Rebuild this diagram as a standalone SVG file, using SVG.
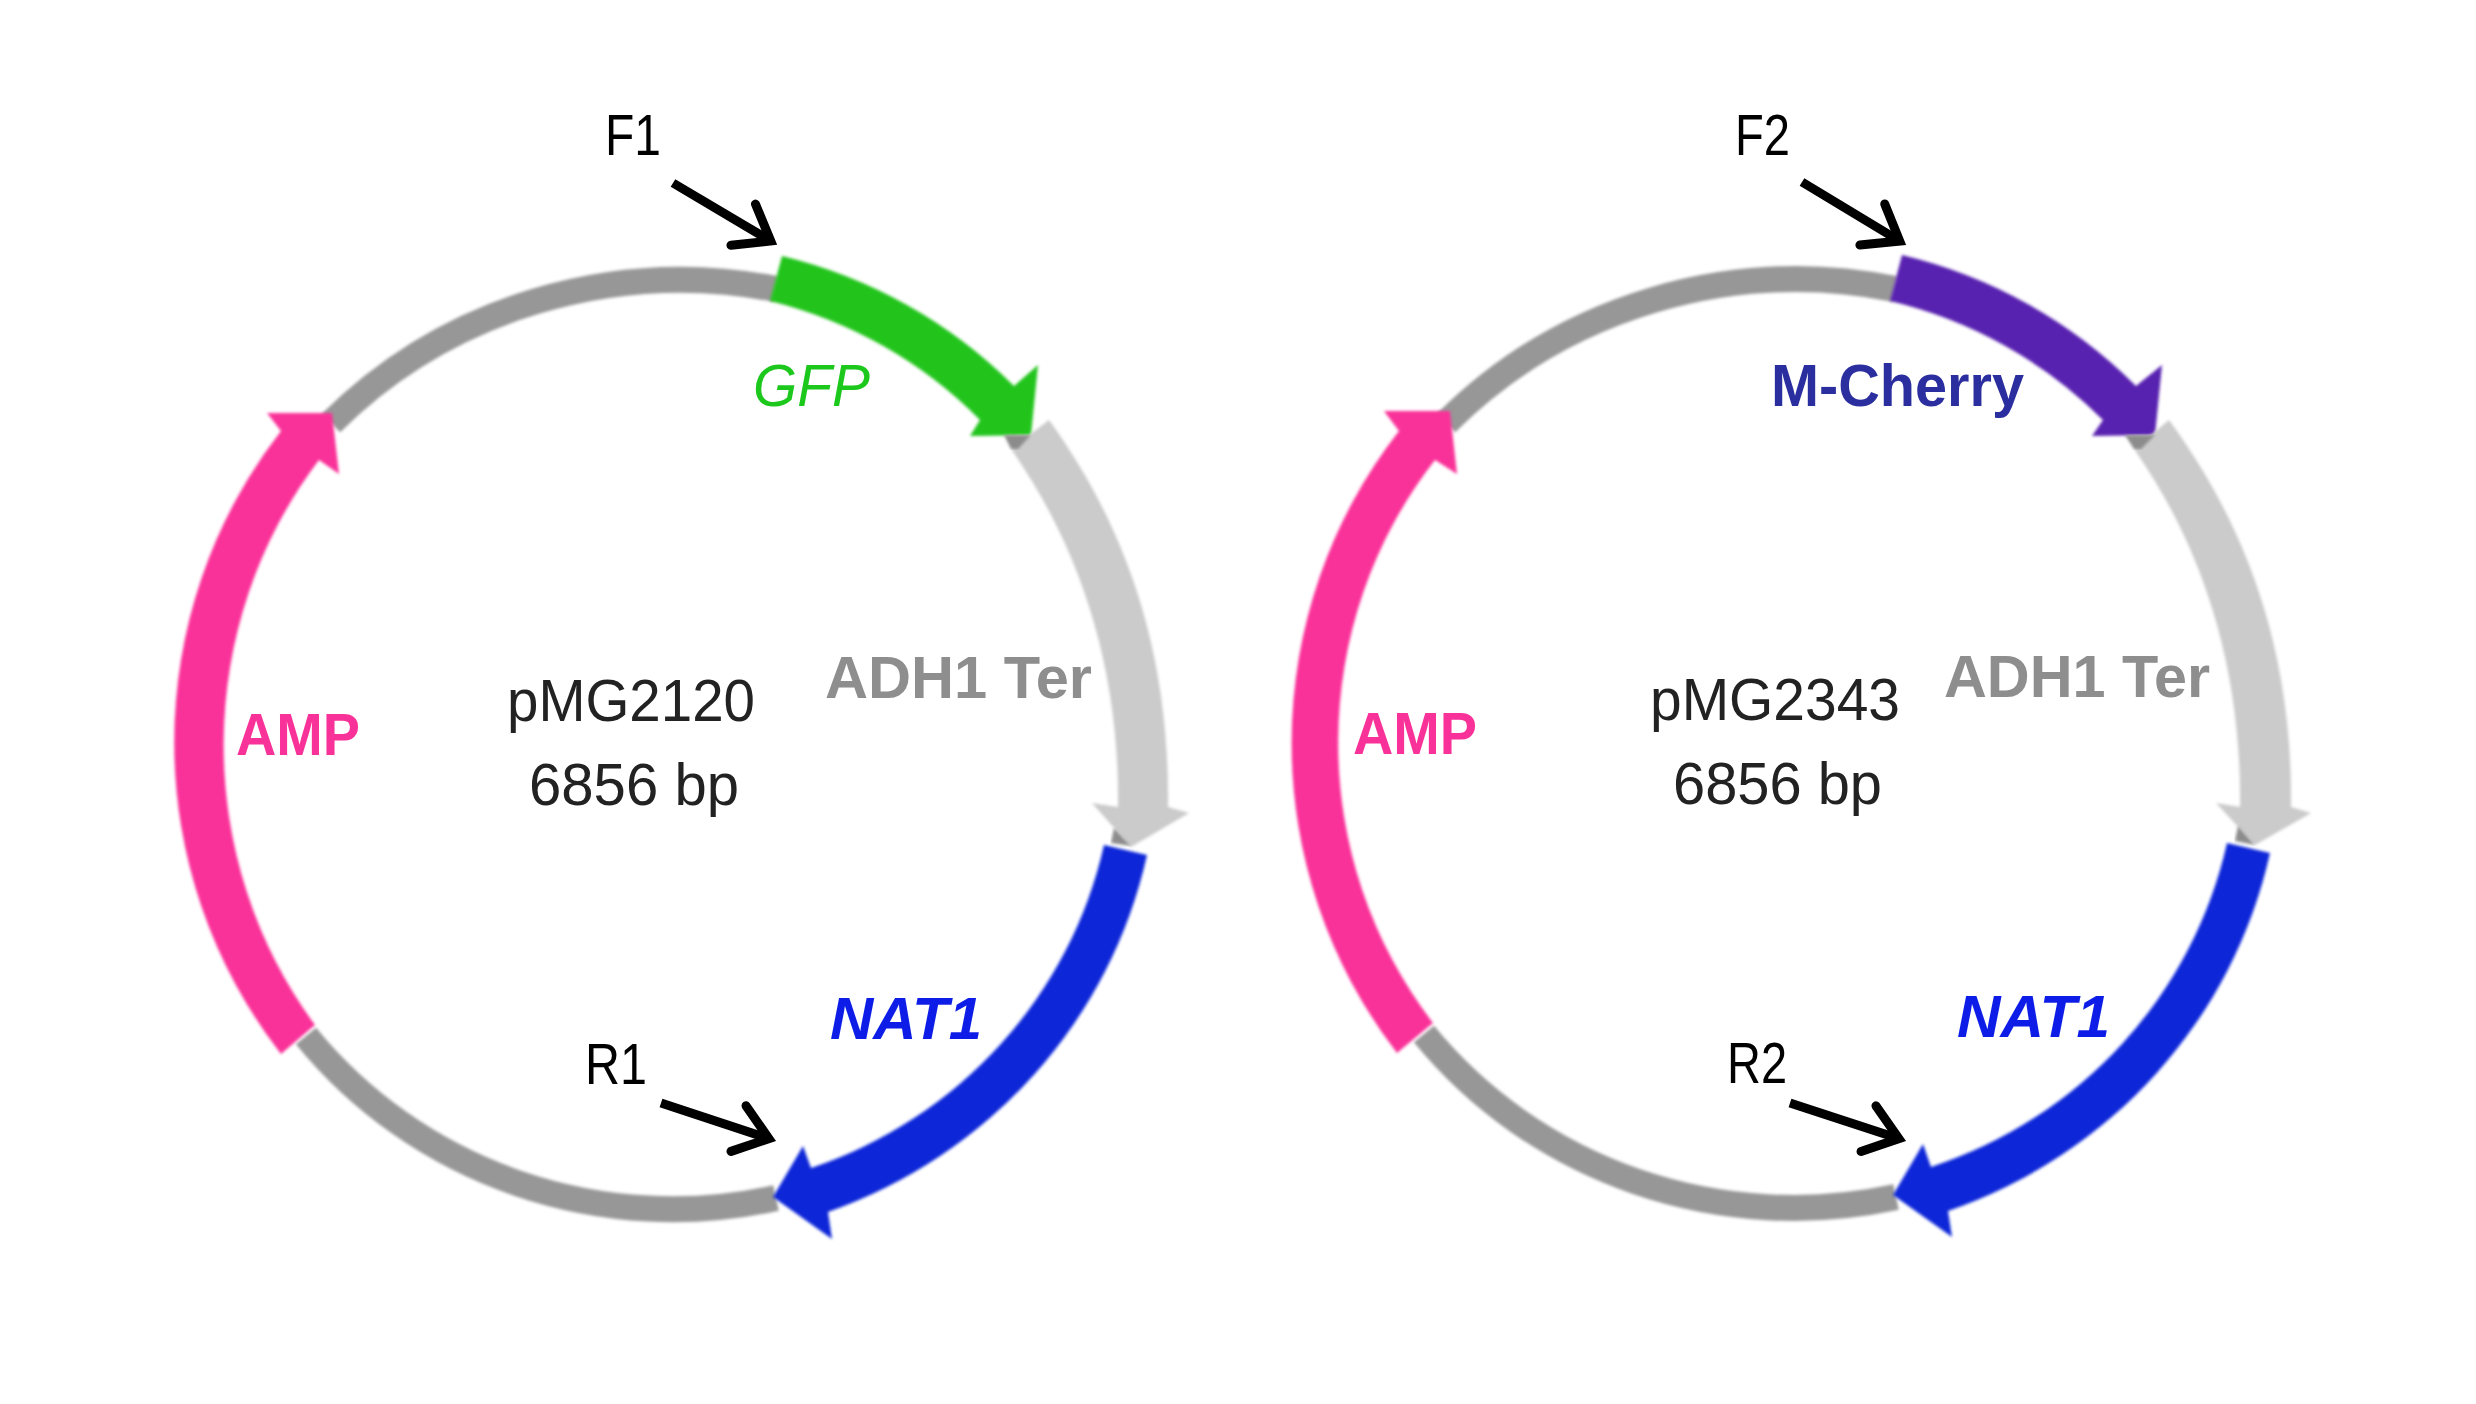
<svg xmlns="http://www.w3.org/2000/svg" width="2476" height="1404" viewBox="0 0 2476 1404">
<style>
text{font-family:"Liberation Sans",Arial,sans-serif}
.pink{fill:#f93399}.light{fill:#cbcbcb}.blue{fill:#0f28d8}.green{fill:#22c41c}.purple{fill:#5822b0}.dark{fill:#8c8c8c}
.back{fill:none;stroke:#979797;stroke-width:26}
.s{filter:url(#soft)}
.t{filter:url(#softer)}
.name{font-size:60px;fill:#222}
.adh{font-size:60px;font-weight:bold;fill:#8e8e8e}
.amp{font-size:60px;font-weight:bold;fill:#f93399}
.nat{font-size:60px;font-weight:bold;font-style:italic;fill:#0a1ee6}
.gfp{font-size:60px;font-style:italic;fill:#1ec81e}
.mch{font-size:60px;font-weight:bold;fill:#2c2f9e}
.pr{font-size:58px;fill:#000}
.arrow{fill:none;stroke:#000;stroke-width:9;marker-end:url(#head)}
</style>
<defs>
<filter id="soft" x="-5%" y="-5%" width="110%" height="110%"><feGaussianBlur stdDeviation="1.4"/></filter>
<filter id="softer" x="-5%" y="-10%" width="110%" height="120%"><feGaussianBlur stdDeviation="0.7"/></filter>
<marker id="head" markerUnits="userSpaceOnUse" markerWidth="60" markerHeight="70" viewBox="-45 -35 60 70" refX="0" refY="0" orient="auto">
<path d="M-30 -24 L2 0 L-30 24" fill="none" stroke="#000" stroke-width="9" stroke-linecap="round"/>
</marker>
</defs>
<rect width="2476" height="1404" fill="#fff"/>

<g id="plasmid-pMG2120">
<g id="backbone-1" class="s">
<path class="back" d="M331 423 A490 478 0 0 1 776 289"/>
<path class="back" d="M306 1036 A471 464 0 0 0 776 1198"/>
</g>
<g id="GFP-1"><path class="green s" d="M782 256 A490 488 0 0 1 1014 386 L1038 365 L1031 435 L970 436 L980 420 A445 440 0 0 0 770 301 Z"/><text class="gfp t" x="753" y="406" textLength="117" lengthAdjust="spacingAndGlyphs">GFP</text></g>
<g id="ADH1-1"><path class="light s" d="M1049 420 C1125 525 1170 650 1168 807 L1189 813 L1131 847 L1092 803 L1118 807 C1120 660 1075 540 1011 449 Z"/>
<path class="dark s" d="M1004 435 L1031 435 L1018 449 L1011 449 Z"/><path class="dark s" d="M1114 828 L1131 846 L1111 843 Z"/>
<text class="adh t" x="825" y="698" textLength="267" lengthAdjust="spacingAndGlyphs">ADH1 Ter</text></g>
<g id="NAT1-1"><path class="blue s" d="M1147 855 A497 490 0 0 1 828 1212 L832 1239 L773 1197 L803 1146 L811 1168 A447 442 0 0 0 1104 845 Z"/><text class="nat t" x="830" y="1039" textLength="152" lengthAdjust="spacingAndGlyphs">NAT1</text></g>
<g id="AMP-1"><path class="pink s" d="M281 431 A497 503 0 0 0 281 1054 L315 1025 A447 462 0 0 1 319 460 L339 474 L332 413 L267 413 Z"/><text class="amp t" x="236" y="755" textLength="124" lengthAdjust="spacingAndGlyphs">AMP</text></g>
<g id="name-1"><text class="name t" x="507" y="721" textLength="248" lengthAdjust="spacingAndGlyphs">pMG2120</text><text class="name t" x="529" y="805" textLength="210" lengthAdjust="spacingAndGlyphs">6856 bp</text></g>
</g>

<g id="plasmid-pMG2343">
<g id="backbone-2" class="s">
<path class="back" d="M1446 423 A490 478 0 0 1 1895 289"/>
<path class="back" d="M1424 1034 A474 464 0 0 0 1896 1197"/>
</g>
<g id="MCherry-2"><path class="purple s" d="M1902 255 A490 488 0 0 1 2136 386 L2162 365 L2155 435 L2092 436 L2103 420 A445 440 0 0 0 1890 301 Z"/><text class="mch t" x="1771" y="406" textLength="253" lengthAdjust="spacingAndGlyphs">M-Cherry</text></g>
<g id="ADH1-2"><path class="light s" d="M2169 420 C2246 525 2293 650 2291 807 L2311 813 L2255 845 L2216 803 L2240 807 C2242 660 2198 540 2134 449 Z"/>
<path class="dark s" d="M2125 435 L2155 435 L2141 449 L2134 449 Z"/><path class="dark s" d="M2238 826 L2255 845 L2235 841 Z"/>
<text class="adh t" x="1944" y="697" textLength="266" lengthAdjust="spacingAndGlyphs">ADH1 Ter</text></g>
<g id="NAT1-2"><path class="blue s" d="M2270 853 A497 490 0 0 1 1948 1211 L1952 1237 L1893 1195 L1923 1144 L1931 1167 A447 442 0 0 0 2227 843 Z"/><text class="nat t" x="1957" y="1037" textLength="153" lengthAdjust="spacingAndGlyphs">NAT1</text></g>
<g id="AMP-2"><path class="pink s" d="M1399 431 A497 503 0 0 0 1397 1053 L1433 1023 A447 455 0 0 1 1435 460 L1457 474 L1450 411 L1384 411 Z"/><text class="amp t" x="1353" y="754" textLength="124" lengthAdjust="spacingAndGlyphs">AMP</text></g>
<g id="name-2"><text class="name t" x="1650" y="720" textLength="250" lengthAdjust="spacingAndGlyphs">pMG2343</text><text class="name t" x="1673" y="804" textLength="209" lengthAdjust="spacingAndGlyphs">6856 bp</text></g>
</g>

<g id="primer-labels">
<text id="F1" class="pr" x="605" y="155" textLength="56" lengthAdjust="spacingAndGlyphs">F1</text>
<text id="R1" class="pr" x="585" y="1084" textLength="62" lengthAdjust="spacingAndGlyphs">R1</text>
<text id="F2" class="pr" x="1735" y="155" textLength="55" lengthAdjust="spacingAndGlyphs">F2</text>
<text id="R2" class="pr" x="1727" y="1083" textLength="60" lengthAdjust="spacingAndGlyphs">R2</text>
</g>

<g id="connectors">
<line class="arrow" x1="673" y1="183" x2="769" y2="240"/>
<line class="arrow" x1="661" y1="1103" x2="767" y2="1138"/>
<line class="arrow" x1="1802" y1="182" x2="1898" y2="240"/>
<line class="arrow" x1="1790" y1="1103" x2="1897" y2="1138"/>
</g>
</svg>
